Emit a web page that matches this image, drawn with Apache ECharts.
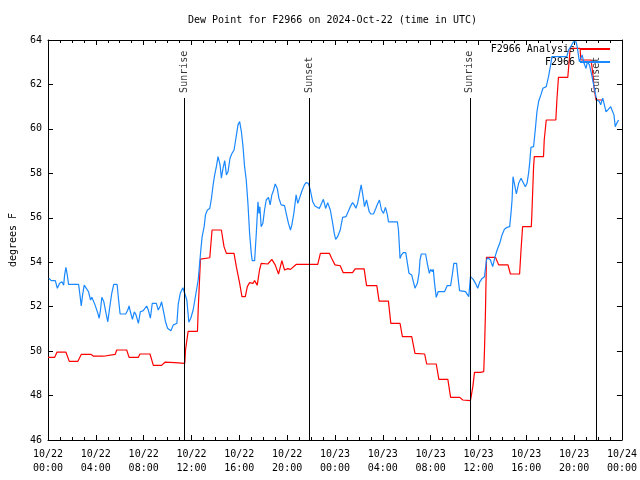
<!DOCTYPE html>
<html><head><meta charset="utf-8">
<script src="https://cdn.jsdelivr.net/npm/echarts@6/dist/echarts.min.js"></script>
<style>html,body{margin:0;padding:0;background:#fff}#c{width:640px;height:480px}</style>
</head><body><div id="c"></div>
<script>
const FONT = '"DejaVu Sans Mono", "Liberation Mono", monospace';
const titleText = 'Dew Point for F2966 on 2024-Oct-22 (time in UTC)';
const yName = 'degrees F';
const startMonth = 10, startDay = 22;
const seriesNames = ['F2966 Analysis', 'F2966'];

// hours since 2024-10-22 00:00 UTC
const blueT = [0.06,0.28,0.42,0.61,0.78,0.97,1.17,1.31,1.39,1.5,1.61,1.72,2.56,2.69,2.78,2.89,3.03,3.19,3.39,3.56,3.67,3.83,3.94,4.17,4.28,4.39,4.5,4.67,4.83,5.0,5.17,5.33,5.5,5.78,5.89,6.03,6.5,6.67,6.78,6.89,7.06,7.22,7.36,7.56,7.72,7.97,8.25,8.39,8.56,8.72,9.06,9.22,9.39,9.5,9.67,9.83,10.0,10.28,10.47,10.61,10.78,10.89,11.06,11.28,11.44,11.61,11.78,11.94,12.14,12.42,12.56,12.78,12.89,13.06,13.17,13.33,13.53,13.67,13.81,13.94,14.08,14.22,14.39,14.5,14.64,14.78,14.92,15.06,15.22,15.39,15.56,15.67,15.78,15.89,16.03,16.17,16.31,16.44,16.58,16.72,16.86,17.0,17.08,17.28,17.42,17.56,17.64,17.72,17.83,17.97,18.11,18.25,18.44,18.58,18.72,18.83,19.0,19.17,19.31,19.5,19.78,19.92,20.11,20.28,20.39,20.56,20.75,20.89,21.06,21.22,21.44,21.58,21.78,21.94,22.14,22.33,22.69,22.83,23.03,23.22,23.39,23.61,23.81,23.94,24.06,24.22,24.44,24.64,24.78,24.92,25.11,25.28,25.47,25.61,25.75,25.89,26.03,26.19,26.33,26.47,26.64,26.86,27.0,27.22,27.42,27.56,27.72,27.89,28.06,28.22,28.39,28.47,29.22,29.31,29.39,29.44,29.56,29.72,29.92,30.06,30.19,30.42,30.56,30.69,30.89,31.03,31.11,31.22,31.58,31.72,31.89,32.0,32.14,32.22,32.33,32.47,32.64,33.17,33.39,33.67,33.81,33.94,34.17,34.28,34.42,34.92,35.19,35.33,35.56,35.75,35.94,36.11,36.31,36.5,36.67,36.78,37.0,37.19,37.39,37.56,37.78,37.97,38.17,38.39,38.61,38.72,38.81,38.89,39.0,39.17,39.36,39.56,39.72,39.92,40.06,40.19,40.28,40.39,40.61,40.75,40.89,41.03,41.22,41.39,41.67,41.86,42.06,42.14,43.39,43.53,43.72,43.94,44.17,44.28,44.44,44.56,44.67,44.83,45.0,45.11,45.28,45.47,45.61,45.75,45.89,46.11,46.22,46.39,46.5,46.67,46.86,47.06,47.22,47.33,47.44,47.56,47.72];
const blueV = [53.28,53.17,53.24,53.17,52.83,53.05,53.12,52.97,53.43,53.77,53.43,53.0,53.0,52.45,52.03,52.52,52.97,52.9,52.67,52.3,52.42,52.38,52.07,51.7,51.48,51.85,52.42,52.22,51.77,51.32,52.0,52.6,53.0,53.0,52.38,51.67,51.67,51.85,52.03,51.77,51.43,51.77,51.63,51.25,51.77,51.82,52.03,51.85,51.48,52.15,52.15,51.85,52.03,52.22,51.77,51.32,51.03,50.92,51.17,51.25,51.25,52.1,52.6,52.85,52.85,52.3,51.3,51.48,51.85,52.75,53.2,54.55,55.15,55.6,56.13,56.35,56.42,56.88,57.48,57.93,58.3,58.75,58.38,57.78,58.23,58.57,57.93,58.08,58.68,58.9,59.05,59.42,59.8,60.18,60.33,59.88,59.2,58.3,57.7,56.65,55.3,54.4,54.07,54.07,55.3,56.72,56.2,56.5,55.6,55.75,56.35,56.8,56.92,56.58,57.03,57.18,57.52,57.33,56.88,56.58,56.55,56.2,55.75,55.45,55.67,56.2,57.03,56.65,56.92,57.18,57.48,57.58,57.55,57.25,56.72,56.53,56.42,56.5,56.83,56.42,56.68,56.35,55.75,55.3,55.03,55.15,55.45,56.02,55.93,56.05,56.28,56.5,56.68,56.58,56.43,56.65,57.03,57.48,57.03,56.5,56.8,56.28,56.17,56.17,56.43,56.62,56.8,56.35,56.2,56.47,56.12,55.82,55.82,55.45,54.7,54.17,54.33,54.43,54.43,53.95,53.5,53.42,53.12,52.83,53.05,53.5,54.1,54.37,54.37,53.95,53.5,53.68,53.57,53.68,53.05,52.42,52.68,52.68,52.95,52.95,53.43,53.95,53.95,53.35,52.72,52.68,52.45,53.35,53.23,53.05,52.83,53.12,53.27,53.35,54.1,54.2,54.1,53.8,54.25,54.55,54.85,55.23,55.48,55.57,55.6,56.2,56.8,57.85,57.55,57.07,57.55,57.78,57.7,57.4,57.55,58.0,58.45,59.17,59.2,59.95,60.77,61.23,61.53,61.83,61.9,62.35,62.95,63.25,63.25,63.55,63.7,63.92,63.92,63.62,63.02,63.1,63.33,62.95,62.72,63.02,62.88,62.43,62.05,61.67,61.3,61.23,61.08,61.38,61.15,60.77,60.88,61.0,61.08,60.63,60.1,60.25,60.4];

const redT = [0.0,0.56,0.75,1.5,1.78,2.5,2.78,3.61,3.81,4.64,4.78,5.61,5.75,6.58,6.78,7.56,7.69,8.53,8.81,9.5,9.78,10.61,10.75,11.44,11.5,11.72,12.5,12.56,12.75,13.53,13.72,14.5,14.72,14.92,15.56,15.75,16.03,16.22,16.5,16.67,16.86,17.14,17.28,17.5,17.69,17.83,18.39,18.72,19.0,19.28,19.56,19.78,20.06,20.28,20.75,22.56,22.78,23.53,23.72,24.0,24.44,24.69,25.47,25.69,26.44,26.64,27.5,27.69,28.47,28.67,29.44,29.64,30.42,30.69,31.5,31.67,32.47,32.69,33.44,33.67,34.44,34.69,35.33,35.53,35.67,36.17,36.44,36.5,36.58,36.67,37.42,37.69,38.47,38.67,39.44,39.56,39.69,40.42,40.47,40.61,40.67,41.44,41.5,41.67,42.47,42.56,42.69,43.47,43.58,43.67,44.5,44.56,45.42,45.56,45.67,45.83,46.42];
const redV = [49.72,49.72,49.95,49.95,49.54,49.54,49.85,49.85,49.77,49.77,49.85,49.85,50.05,50.05,49.72,49.72,49.87,49.87,49.36,49.36,49.5,49.48,49.45,49.45,50.05,50.89,50.89,51.85,54.14,54.2,55.45,55.45,54.7,54.4,54.4,53.8,53.05,52.45,52.45,52.9,53.08,53.05,53.17,52.97,53.65,53.95,53.92,54.13,53.88,53.47,54.07,53.65,53.71,53.68,53.9,53.9,54.4,54.4,54.18,53.88,53.84,53.53,53.53,53.7,53.7,52.95,52.95,52.25,52.25,51.25,51.25,50.65,50.65,49.9,49.87,49.42,49.42,48.73,48.73,47.92,47.92,47.8,47.77,48.4,49.04,49.04,49.08,49.97,51.63,54.22,54.22,53.88,53.88,53.47,53.47,54.55,55.6,55.6,56.2,58.3,58.75,58.75,59.5,60.4,60.4,61.3,62.32,62.32,63.02,63.62,63.62,63.1,63.1,62.5,61.83,61.3,61.3];

const sunT = [11.39, 21.86, 35.28, 45.83];
const sunLabels = ['Sunrise', 'Sunset', 'Sunrise', 'Sunset'];
const sunLineTop = 61.39;   // value where the sun marker lines begin
const sunLabelBase = 61.62; // value where the rotated labels start

const xMin = 0, xMax = 48, xStep = 4;
const yMin = 46, yMax = 64, yStep = 2;

function pad(n){ return (n < 10 ? '0' : '') + n; }
function fmtX(h){
  const d = startDay + Math.floor(h / 24);
  const hh = Math.round(h) % 24;
  return pad(startMonth) + '/' + pad(d) + '\n' + pad(hh) + ':00';
}

const chart = echarts.init(document.getElementById('c'), null, {renderer: 'canvas'});
const axLine = {show: true, onZero: false, lineStyle: {color: '#000', width: 1}};
const lbl = {color: '#000', fontFamily: FONT, fontSize: 10};
const xCommon = {type: 'value', min: xMin, max: xMax, interval: xStep, splitLine: {show: false},
  axisLine: axLine, axisTick: {inside: true, length: 5, lineStyle: {color: '#000'}},
  minorTick: {show: true, splitNumber: 4, length: 3, lineStyle: {color: '#000'}}};
const yCommon = {type: 'value', min: yMin, max: yMax, interval: yStep, splitLine: {show: false},
  axisLine: axLine, axisTick: {inside: true, length: 5, lineStyle: {color: '#000'}}};

chart.setOption({
  animation: false,
  backgroundColor: '#fff',
  title: {text: titleText, left: 188, top: 15, padding: 0,
    textStyle: {color: '#000', fontFamily: FONT, fontSize: 10, fontWeight: 'normal'}},
  grid: {left: 46, right: 18, top: 40, bottom: 40, containLabel: false},
  legend: [
    {data: [seriesNames[0]], right: 30, top: 44, align: 'right', orient: 'vertical', padding: 0,
     itemWidth: 30, itemHeight: 2, icon: 'rect', selectedMode: false, textStyle: lbl},
    {data: [seriesNames[1]], right: 30, top: 57, align: 'right', orient: 'vertical', padding: 0,
     itemWidth: 30, itemHeight: 2, icon: 'rect', selectedMode: false, textStyle: lbl}
  ],
  xAxis: [
    Object.assign({}, xCommon, {position: 'bottom',
      axisLabel: Object.assign({}, lbl, {formatter: fmtX, lineHeight: 14, margin: 7, showMinLabel: true, showMaxLabel: true})}),
    Object.assign({}, xCommon, {position: 'top', axisLabel: {show: false}})
  ],
  yAxis: [
    Object.assign({}, yCommon, {position: 'left', name: yName, nameLocation: 'middle', nameRotate: 90, nameGap: 30,
      nameTextStyle: lbl, axisLabel: Object.assign({}, lbl, {margin: 6})}),
    Object.assign({}, yCommon, {position: 'right', axisLabel: {show: false}})
  ],
  series: [
    {type: 'scatter', name: 'sun', xAxisIndex: 0, yAxisIndex: 0, symbolSize: 0, silent: true, z: 1,
     data: sunT.map(t => [t, sunLabelBase]),
     label: {show: true, position: 'inside', rotate: 90, align: 'left', verticalAlign: 'middle',
       color: '#000', fontFamily: FONT, fontSize: 10,
       formatter: p => sunLabels[p.dataIndex]},
     markLine: {silent: true, symbol: ['none', 'none'], label: {show: false},
       lineStyle: {color: '#000', width: 1, type: 'solid'},
       data: sunT.map(t => [{coord: [t, sunLineTop]}, {coord: [t, yMin]}])}
    },
    {type: 'line', name: seriesNames[0], data: redT.map((t, i) => [t, redV[i]]),
     symbol: 'none', color: '#ff0000', lineStyle: {color: '#ff0000', width: 1.2}, z: 3},
    {type: 'line', name: seriesNames[1], data: blueT.map((t, i) => [t, blueV[i]]),
     symbol: 'none', color: '#1a88ff', lineStyle: {color: '#1a88ff', width: 1.2}, z: 4}
  ]
});
</script></body></html>
